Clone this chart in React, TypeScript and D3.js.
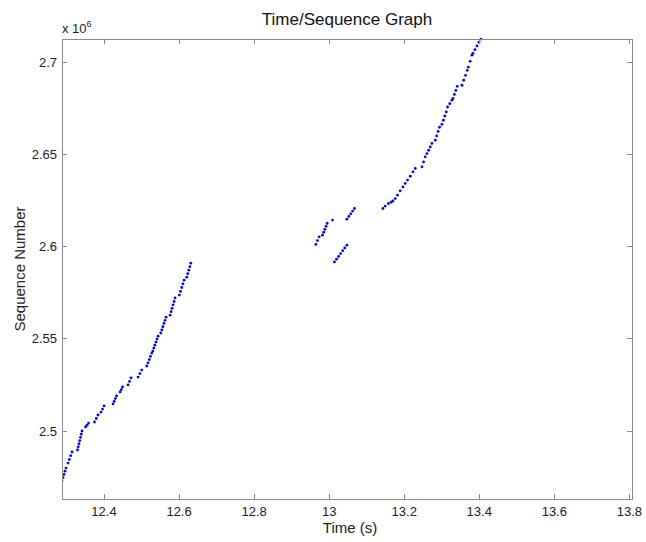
import React from "react";
import * as d3 from "d3";

// time (s), sequence number (x 10^6)
const earlyBurst: [number, number][] = [
  [12.288, 2.4729], [12.2907, 2.4747], [12.2933, 2.4764], [12.296, 2.4782], [12.2987, 2.4799],
  [12.304, 2.4826], [12.3075, 2.4846], [12.3111, 2.4866], [12.3147, 2.4886],
  [12.3293, 2.4897], [12.3313, 2.4914], [12.3333, 2.4931], [12.3353, 2.4948], [12.3373, 2.4966], [12.3393, 2.4983], [12.3413, 2.5],
  [12.3507, 2.5022], [12.3547, 2.5032], [12.3587, 2.5043],
  [12.3747, 2.5049], [12.3793, 2.5068], [12.384, 2.5087],
  [12.392, 2.5103], [12.396, 2.5119], [12.4, 2.5136],
  [12.424, 2.5147], [12.4271, 2.5161], [12.4302, 2.5176], [12.4333, 2.519],
  [12.4427, 2.5212], [12.446, 2.5225], [12.4493, 2.5239],
  [12.464, 2.525], [12.468, 2.5269], [12.472, 2.5288],
  [12.4907, 2.5293], [12.4956, 2.5312], [12.5005, 2.5331],
  [12.5139, 2.5353], [12.5172, 2.537], [12.5206, 2.5388], [12.5239, 2.5405], [12.5272, 2.5423],
  [12.5299, 2.5434], [12.5327, 2.545], [12.5355, 2.5466], [12.5384, 2.5483], [12.5412, 2.5499], [12.544, 2.5515],
  [12.5512, 2.5532], [12.554, 2.5549], [12.5568, 2.5566], [12.5597, 2.5584], [12.5625, 2.5601], [12.5653, 2.5618],
  [12.576, 2.5629], [12.5787, 2.5648], [12.5813, 2.5666], [12.584, 2.5685], [12.5867, 2.5703], [12.5893, 2.5722],
  [12.6008, 2.5738], [12.6039, 2.5758], [12.6071, 2.5779], [12.6102, 2.5799], [12.6133, 2.5819],
  [12.6205, 2.5835], [12.6232, 2.5854], [12.6259, 2.5873], [12.6285, 2.5892], [12.6312, 2.5911],
];

const middleBurst: [number, number][] = [
  [12.9645, 2.6013], [12.9689, 2.6034], [12.9733, 2.6054],
  [12.9821, 2.6063], [12.9853, 2.6079], [12.9884, 2.6095], [12.9916, 2.6111], [12.9947, 2.6127],
  [13.0088, 2.6145],
  [13.0141, 2.5918], [13.0196, 2.5933], [13.0251, 2.5948], [13.0306, 2.5963], [13.0361, 2.5979], [13.0416, 2.5994], [13.0472, 2.6009],
  [13.0472, 2.615], [13.0523, 2.6165], [13.0574, 2.6179], [13.0624, 2.6194], [13.0675, 2.6208],
];

const lateBurst: [number, number][] = [
  [13.1432, 2.6208], [13.1493, 2.6221], [13.1581, 2.6235], [13.1653, 2.6242],
  [13.1699, 2.6249], [13.176, 2.6262], [13.1821, 2.628], [13.1893, 2.6304], [13.1965, 2.6325],
  [13.2027, 2.6344], [13.2088, 2.6362], [13.216, 2.6383], [13.2232, 2.6407], [13.2293, 2.6425],
  [13.2472, 2.6434], [13.2516, 2.6461], [13.256, 2.6488],
  [13.2605, 2.6506], [13.265, 2.6524], [13.2694, 2.6542], [13.2739, 2.6561],
  [13.2827, 2.6579], [13.2865, 2.6602], [13.2903, 2.6626], [13.2941, 2.6649],
  [13.3005, 2.6665], [13.3043, 2.6687], [13.3082, 2.671], [13.312, 2.6732],
  [13.3155, 2.6759], [13.3214, 2.6777], [13.3272, 2.6796],
  [13.3299, 2.6805], [13.3337, 2.6827], [13.3375, 2.6849], [13.3413, 2.6871],
  [13.3539, 2.6877], [13.3586, 2.6904], [13.3633, 2.6931], [13.368, 2.6958],
  [13.3707, 2.6975], [13.3756, 2.7007], [13.3805, 2.704],
  [13.3832, 2.705], [13.3885, 2.707], [13.3938, 2.709], [13.3992, 2.711], [13.4045, 2.7128],
];

const xTicks = [12.4, 12.6, 12.8, 13, 13.2, 13.4, 13.6, 13.8];
const yTicks = [2.5, 2.55, 2.6, 2.65, 2.7];

const W = 646;
const H = 542;
const left = 62;
const right = 632;
const top = 39;
const bottom = 499;
const font = "'Liberation Sans', Arial, sans-serif";
const axisColor = "#8a8a8a";
const tickLen = 5;

export default function App() {
  const x = d3.scaleLinear().domain([12.288, 13.807]).range([left, right]);
  const y = d3.scaleLinear().domain([2.4631, 2.7128]).range([bottom, top]);
  const points = [...earlyBurst, ...middleBurst, ...lateBurst];

  return (
    <svg
      width={W}
      height={H}
      style={{ position: "absolute", left: 0, top: 0, background: "#fff" }}
      fontFamily={font}
    >
      <defs>
        <clipPath id="plot">
          <rect x={left} y={top - 1} width={right - left} height={bottom - top + 1} />
        </clipPath>
      </defs>
      <rect x={0} y={0} width={W} height={H} fill="#fff" />

      <g clipPath="url(#plot)">
        {points.map((d, i) => (
          <circle key={i} cx={x(d[0])} cy={y(d[1])} r={1.4} fill="#0000ff" />
        ))}
      </g>

      <rect
        x={left}
        y={top}
        width={right - left}
        height={bottom - top}
        fill="none"
        stroke={axisColor}
        strokeWidth={1}
        shapeRendering="crispEdges"
      />

      {xTicks.map((t) => (
        <g key={t}>
          <line x1={x(t)} x2={x(t)} y1={bottom} y2={bottom - tickLen} stroke={axisColor} shapeRendering="crispEdges" />
          <line x1={x(t)} x2={x(t)} y1={top} y2={top + tickLen} stroke={axisColor} shapeRendering="crispEdges" />
          <text x={x(t)} y={516} textAnchor="middle" fontSize={13} fill="#222">
            {d3.format("~g")(t)}
          </text>
        </g>
      ))}

      {yTicks.map((t) => (
        <g key={t}>
          <line x1={left} x2={left + tickLen} y1={y(t)} y2={y(t)} stroke={axisColor} shapeRendering="crispEdges" />
          <line x1={right} x2={right - tickLen} y1={y(t)} y2={y(t)} stroke={axisColor} shapeRendering="crispEdges" />
          <text x={left - 5} y={y(t)} dy="0.35em" textAnchor="end" fontSize={13} fill="#222">
            {d3.format("~g")(t)}
          </text>
        </g>
      ))}

      <text x={62} y={33} fontSize={13} fill="#222">
        x 10
        <tspan dy={-6} fontSize={9}>6</tspan>
      </text>

      <text x={347} y={25} textAnchor="middle" fontSize={17} fill="#111">
        Time/Sequence Graph
      </text>
      <text x={350} y={533} textAnchor="middle" fontSize={15} fill="#222">
        Time (s)
      </text>
      <text
        transform={`translate(25, ${(top + bottom) / 2}) rotate(-90)`}
        textAnchor="middle"
        fontSize={15}
        fill="#222"
      >
        Sequence Number
      </text>
    </svg>
  );
}
